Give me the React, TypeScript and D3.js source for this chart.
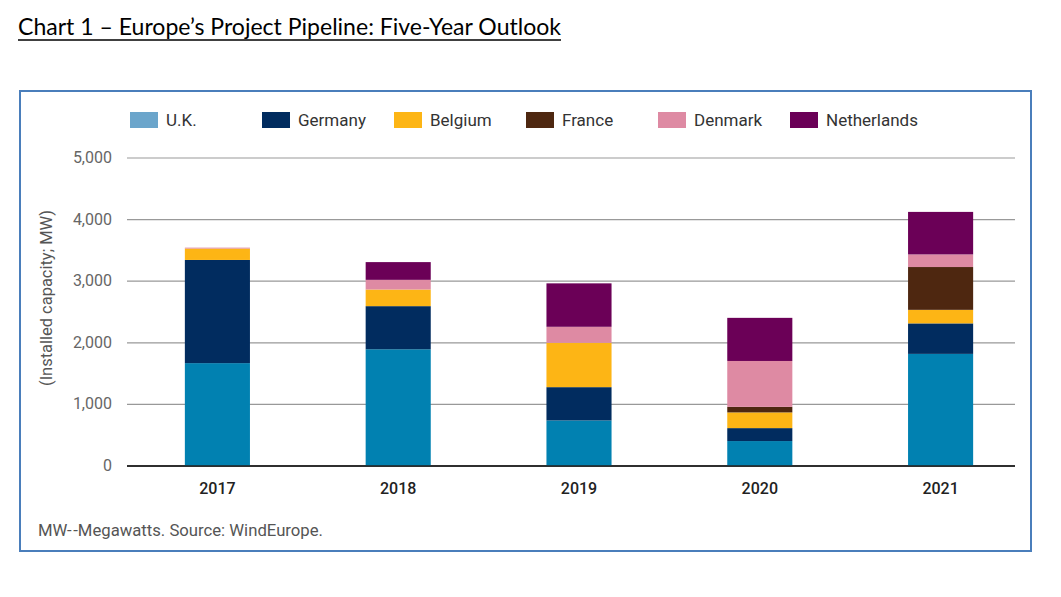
import React from 'react'
import * as d3 from 'd3'

const years = ['2017', '2018', '2019', '2020', '2021']
const countries = ['U.K.', 'Germany', 'Belgium', 'France', 'Denmark', 'Netherlands']
const ukValues = [1670, 1895, 740, 405, 1820]
const germanyValues = [1675, 700, 540, 210, 495]
const belgiumValues = [185, 270, 720, 255, 220]
const franceValues = [0, 0, 0, 90, 695]
const denmarkValues = [15, 157, 260, 745, 205]
const netherlandsValues = [0, 288, 705, 700, 690]
const yTicks = [0, 1000, 2000, 3000, 4000, 5000]

const barColors = ['#0181b1', '#012c5f', '#fdb515', '#4e2710', '#de8aa3', '#6b0057']
const legendColors = ['#6ba5cb', '#012c5f', '#fdb515', '#4e2710', '#de8aa3', '#6b0057']

const W = 1061
const H = 597
const plotLeft = 127
const plotRight = 1015
const plotTop = 158
const plotBottom = 466

export default function App() {
  const series = [ukValues, germanyValues, belgiumValues, franceValues, denmarkValues, netherlandsValues]
  const rows = years.map((year, i) => {
    const row: Record<string, number | string> = { year }
    countries.forEach((c, k) => { row[c] = series[k][i] })
    return row
  })
  const stacked = d3.stack<Record<string, number | string>>()
    .keys(countries)
    .value((d, key) => d[key] as number)(rows)

  const x = d3.scaleBand<string>()
    .domain(years)
    .range([plotLeft, 1031])
    .paddingInner(0.64)
    .paddingOuter(0.32)
  const y = d3.scaleLinear().domain([0, 5000]).range([plotBottom, plotTop])
  const fmt = d3.format(',')

  const legendX = d3.scaleLinear().domain([0, 1]).range([130, 262])

  return (
    <div style={{ position: 'absolute', left: 0, top: 0 }}>
      <svg width={W} height={H} style={{ display: 'block', background: '#fff' }}>
        <text x={18} y={35} fontFamily="Lato, 'Open Sans', sans-serif" fontSize={22.5} fill="#000"
          textLength={543} lengthAdjust="spacingAndGlyphs">
          Chart 1 – Europe’s Project Pipeline: Five-Year Outlook
        </text>
        <line x1={18} x2={561} y1={40} y2={40} stroke="#000" strokeWidth={1.5} />

        <rect x={20} y={91} width={1011} height={460} fill="none" stroke="#4a7ebb" strokeWidth={2} />

        {/* legend */}
        {countries.map((c, k) => (
          <g key={c} transform={`translate(${legendX(k)},112)`}>
            <rect width={28} height={16} fill={legendColors[k]} />
            <text x={36} y={14} fontFamily="Roboto, sans-serif" fontSize={17} fill="#333">{c}</text>
          </g>
        ))}

        {/* grid */}
        {yTicks.map(t => (
          <g key={t}>
            <line x1={plotLeft} x2={plotRight} y1={y(t)} y2={y(t)}
              stroke={t === 0 ? '#222' : '#999'} strokeWidth={t === 0 ? 1.5 : 1.2} />
            <text x={112} y={y(t) + 5} textAnchor="end" fontFamily="Roboto, sans-serif" fontSize={16} fill="#666">
              {fmt(t)}
            </text>
          </g>
        ))}

        <text transform={`translate(52,298) rotate(-90)`} textAnchor="middle"
          fontFamily="Roboto, sans-serif" fontSize={16} fill="#555"
          textLength={176} lengthAdjust="spacingAndGlyphs">
          (Installed capacity; MW)
        </text>

        {/* bars */}
        {stacked.map((layer, k) => (
          <g key={layer.key} fill={barColors[k]}>
            {layer.map((seg, i) => (
              seg[1] - seg[0] > 0 ? (
                <rect key={i} x={x(years[i])} width={x.bandwidth()}
                  y={y(seg[1])} height={y(seg[0]) - y(seg[1])} />
              ) : null
            ))}
          </g>
        ))}
        <line x1={plotLeft} x2={plotRight} y1={y(0)} y2={y(0)} stroke="#222" strokeWidth={1.5} />

        {years.map(yr => (
          <text key={yr} x={x(yr)! + x.bandwidth() / 2} y={494} textAnchor="middle"
            fontFamily="Roboto, sans-serif" fontSize={16} fontWeight={500} fill="#222">
            {yr}
          </text>
        ))}

        <text x={38} y={536} fontFamily="Roboto, sans-serif" fontSize={16} fill="#555"
          textLength={285} lengthAdjust="spacingAndGlyphs">
          MW-{'\u200A'}-Megawatts. Source: WindEurope.
        </text>
      </svg>
    </div>
  )
}
